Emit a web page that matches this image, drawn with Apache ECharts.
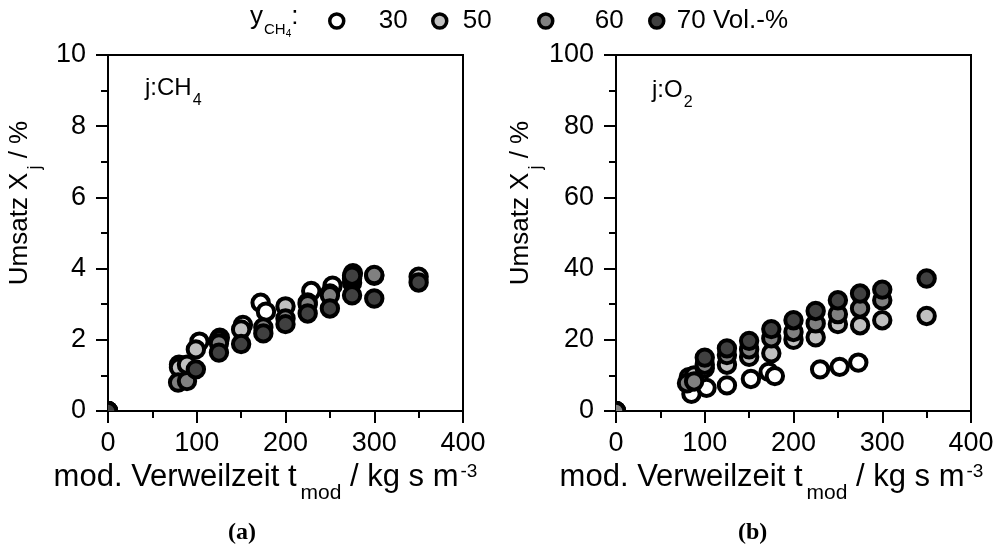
<!DOCTYPE html>
<html><head><meta charset="utf-8">
<script src="https://cdn.jsdelivr.net/npm/echarts@6/dist/echarts.min.js"></script>
<style>html,body{margin:0;padding:0;background:#fff}#c{width:999px;height:554px}</style>
</head><body><div id="c"></div>
<script>
// ---- data ----
const seriesNames = ['30', '50', '60', '70 Vol.-%'];
const xTicks = [0, 100, 200, 300, 400];
const yTicksCH4 = [0, 2, 4, 6, 8, 10];
const yTicksO2 = [0, 20, 40, 60, 80, 100];

// (a) CH4 conversion, %
const ch4_30 = [[0,0],[80,1.3],[103,1.95],[126,2.06],[152,2.42],[172,3.04],[178,2.79],[229,3.37],[253,3.52],[276,3.87]];
const ch4_50 = [[0,0],[80,1.22],[89,1.3],[99,1.73],[125,2.0],[150,2.29],[200,2.94],[225,3.05],[250,3.3],[275,3.6],[300,3.8],[350,3.77]];
const ch4_60 = [[0,0],[79,0.8],[89,0.84],[125,1.9],[175,2.35],[200,2.6],[225,3.0],[250,3.25],[275,3.72],[300,3.82]];
const ch4_70 = [[0,0],[99,1.17],[125,1.64],[150,1.88],[175,2.18],[200,2.44],[225,2.74],[250,2.88],[275,3.25],[275,3.8],[300,3.16],[350,3.61]];

// (b) O2 conversion, %
const o2_30 = [[0,0],[85,4.8],[102,6.5],[125,7.2],[152,9.0],[172,11.0],[179,9.8],[230,11.7],[252,12.4],[273,13.6]];
const o2_50 = [[0,0],[82,9.5],[88,10.0],[100,12.0],[125,13.0],[150,15.2],[175,16.2],[200,20.0],[225,20.7],[250,24.4],[275,24.1],[300,25.5],[350,26.7]];
const o2_60 = [[0,0],[80,7.8],[88,8.3],[100,13.0],[125,15.7],[150,17.3],[175,20.4],[200,22.2],[225,24.6],[250,27.2],[275,28.8],[300,31.1]];
const o2_70 = [[100,15.0],[125,17.6],[150,19.7],[175,23.0],[200,25.5],[225,28.1],[250,31.1],[275,33.0],[300,34.1],[350,37.2]];

// ---- styles ----
const F = 'Liberation Sans, Arial, sans-serif';
const fills = ['#ffffff', '#c0c0c0', '#808080', '#404040'];
const R = 8.2, LW = 4;

const richY = {
  a: {fontSize: 26, fontFamily: F, color: '#000', lineHeight: 30, verticalAlign: 'top'},
  sub: {fontSize: 18, fontFamily: F, color: '#000', lineHeight: 18, verticalAlign: 'top', padding: [19, 0, 0, 3]}
};
const richX = {
  a: {fontSize: 31, fontFamily: F, color: '#000', lineHeight: 35, verticalAlign: 'top'},
  sub: {fontSize: 21, fontFamily: F, color: '#000', lineHeight: 21, verticalAlign: 'top', padding: [21, 0, 0, 4]},
  sup: {fontSize: 19, fontFamily: F, color: '#000', lineHeight: 19, verticalAlign: 'top', padding: [0, 0, 0, 2]}
};

function mkRender(fill) {
  return function (params, api) {
    const p = api.coord([api.value(0), api.value(1)]);
    return {type: 'circle', shape: {cx: p[0], cy: p[1], r: R},
      style: {fill: fill, stroke: '#000', lineWidth: LW}};
  };
}

function xAxisCfg(gi, padRight) {
  return {
    gridIndex: gi, type: 'value', min: xTicks[0], max: xTicks[xTicks.length - 1],
    interval: xTicks[1] - xTicks[0],
    axisLine: {lineStyle: {color: '#000', width: 2}},
    axisTick: {length: 12, lineStyle: {color: '#000', width: 2}},
    minorTick: {show: true, splitNumber: 2, length: 7, lineStyle: {color: '#000', width: 2}},
    splitLine: {show: false},
    axisLabel: {fontSize: 27, fontFamily: F, color: '#000', margin: 19},
    name: '{a|mod. Verweilzeit t}{sub|mod}{a| / kg s m}{sup|-3}',
    nameLocation: 'middle', nameGap: 46,
    nameTextStyle: {rich: richX, padding: [0, padRight, 0, 0]}
  };
}
function yAxisCfg(gi, ticks) {
  return {
    gridIndex: gi, type: 'value', min: ticks[0], max: ticks[ticks.length - 1],
    interval: ticks[1] - ticks[0],
    axisLine: {lineStyle: {color: '#000', width: 2}},
    axisTick: {length: 12, lineStyle: {color: '#000', width: 2}},
    minorTick: {show: true, splitNumber: 2, length: 7, lineStyle: {color: '#000', width: 2}},
    splitLine: {show: false},
    axisLabel: {fontSize: 27, fontFamily: F, color: '#000', margin: 22},
    name: '{a|Umsatz X}{sub|j}{a| / %}',
    nameLocation: 'middle', nameGap: 71, nameRotate: 90,
    nameTextStyle: {rich: richY, padding: [0, 0, 0, 60]}
  };
}

const ch4 = [ch4_30, ch4_50, ch4_60, ch4_70];
const o2 = [o2_30, o2_50, o2_60, o2_70];
const series = [];
[ch4, o2].forEach(function (set, gi) {
  set.forEach(function (d, si) {
    series.push({
      type: 'custom', name: seriesNames[si], xAxisIndex: gi, yAxisIndex: gi,
      data: d, clip: true, renderItem: mkRender(fills[si]),
      encode: {x: 0, y: 1},
      itemStyle: {color: fills[si], borderColor: '#000', borderWidth: LW}
    });
  });
});

// [legend box left, extra gap before label]
const legendPos = [[328, 30], [431, 11], [537, 37], [648, 8]];
const legends = seriesNames.map(function (n, i) {
  return {
    data: [n], left: legendPos[i][0], top: 8, padding: 0, selectedMode: false,
    icon: 'circle', itemWidth: 14, itemHeight: 14,
    itemStyle: {color: fills[i], borderColor: '#000', borderWidth: 3.5},
    textStyle: {fontSize: 26, fontFamily: F, color: '#000', padding: [0, 0, 0, legendPos[i][1]]}
  };
});

const option = {
  animation: false,
  backgroundColor: '#fff',
  grid: [
    {left: 108, top: 55, width: 355, height: 356, show: true, borderColor: '#000', borderWidth: 2, backgroundColor: 'transparent'},
    {left: 616, top: 55, width: 355, height: 356, show: true, borderColor: '#000', borderWidth: 2, backgroundColor: 'transparent'}
  ],
  xAxis: [xAxisCfg(0, 40), xAxisCfg(1, 44)],
  yAxis: [yAxisCfg(0, yTicksCH4), yAxisCfg(1, yTicksO2)],
  legend: legends,
  series: series,
  graphic: [
    {type: 'text', left: 250, top: 4, style: {text: '{a|y}{s|CH}{ss|4}{a|:}', rich: {
      a: {fontSize: 26, fontFamily: F, fill: '#000', lineHeight: 30, verticalAlign: 'top'},
      s: {fontSize: 15, fontFamily: F, fill: '#000', lineHeight: 15, verticalAlign: 'top', padding: [18, 0, 0, 1]},
      ss: {fontSize: 10, fontFamily: F, fill: '#000', lineHeight: 10, verticalAlign: 'top', padding: [25, 0, 0, 0]}
    }}},
    {type: 'text', left: 145, top: 76, style: {text: '{a|j:CH}{s|4}', rich: {
      a: {fontSize: 24, fontFamily: F, fill: '#000', lineHeight: 28, verticalAlign: 'top'},
      s: {fontSize: 16, fontFamily: F, fill: '#000', lineHeight: 16, verticalAlign: 'top', padding: [17, 0, 0, 1]}
    }}},
    {type: 'text', left: 652, top: 78, style: {text: '{a|j:O}{s|2}', rich: {
      a: {fontSize: 24, fontFamily: F, fill: '#000', lineHeight: 28, verticalAlign: 'top'},
      s: {fontSize: 16, fontFamily: F, fill: '#000', lineHeight: 16, verticalAlign: 'top', padding: [17, 0, 0, 1]}
    }}},
    {type: 'text', left: 228, top: 521, style: {text: '(a)', font: 'bold 24px "Liberation Serif", "Times New Roman", serif', fill: '#000'}},
    {type: 'text', left: 738, top: 521, style: {text: '(b)', font: 'bold 24px "Liberation Serif", "Times New Roman", serif', fill: '#000'}}
  ]
};

const chart = echarts.init(document.getElementById('c'), null, {renderer: 'canvas'});
chart.setOption(option);
</script>
</body></html>
